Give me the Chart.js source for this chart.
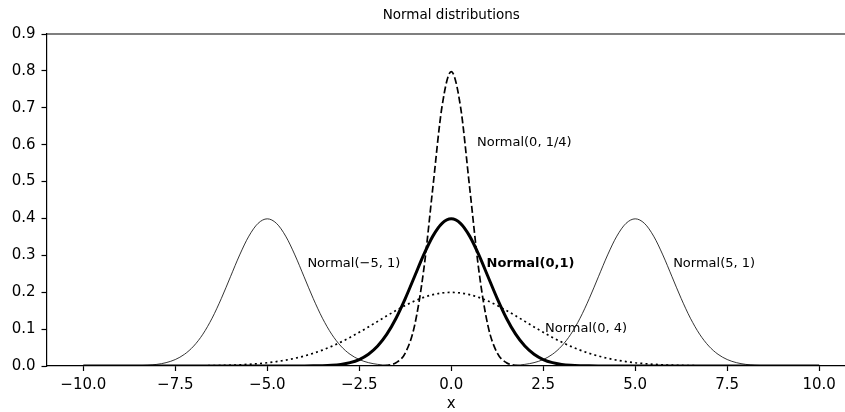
<!DOCTYPE html>
<html>
<head>
<meta charset="utf-8">
<script src="https://cdn.jsdelivr.net/npm/chart.js@4/dist/chart.umd.min.js"></script>
<style>
  html, body { margin: 0; padding: 0; background: #fff; overflow: hidden; width: 845px; height: 412px; }
  #wrap { position: relative; width: 857px; height: 412px; }
</style>
</head>
<body>
<div id="wrap"><canvas id="c" width="857" height="412"></canvas></div>
<script>
// ---- data ----
const xValues = [-10,-9.75,-9.5,-9.25,-9,-8.75,-8.5,-8.25,-8,-7.75,-7.5,-7.25,-7,-6.75,-6.5,-6.25,-6,-5.75,-5.5,-5.25,
  -5,-4.75,-4.5,-4.25,-4,-3.75,-3.5,-3.25,-3,-2.75,-2.5,-2.25,-2,-1.75,-1.5,-1.25,-1,-0.75,-0.5,-0.25,
  0,0.25,0.5,0.75,1,1.25,1.5,1.75,2,2.25,2.5,2.75,3,3.25,3.5,3.75,4,4.25,4.5,4.75,
  5,5.25,5.5,5.75,6,6.25,6.5,6.75,7,7.25,7.5,7.75,8,8.25,8.5,8.75,9,9.25,9.5,9.75,10];

const normal0_1 = [0,0,0,0,0,0,0,0,0,0,0,0,0,0,0,0,0,0,0,0,0,
  0.00001,0.00002,0.00005,0.00013,0.00035,0.00087,0.00203,0.00443,0.00909,0.01753,0.03174,0.05399,0.08628,0.12952,0.18265,0.24197,0.30114,0.35207,0.38667,
  0.39894,
  0.38667,0.35207,0.30114,0.24197,0.18265,0.12952,0.08628,0.05399,0.03174,0.01753,0.00909,0.00443,0.00203,0.00087,0.00035,0.00013,0.00005,0.00002,0.00001,
  0,0,0,0,0,0,0,0,0,0,0,0,0,0,0,0,0,0,0,0,0];

const normalM5_1 = [0,
  0.00001,0.00002,0.00005,0.00013,0.00035,0.00087,0.00203,0.00443,0.00909,0.01753,0.03174,0.05399,0.08628,0.12952,0.18265,0.24197,0.30114,0.35207,0.38667,
  0.39894,
  0.38667,0.35207,0.30114,0.24197,0.18265,0.12952,0.08628,0.05399,0.03174,0.01753,0.00909,0.00443,0.00203,0.00087,0.00035,0.00013,0.00005,0.00002,0.00001,
  0,0,0,0,0,0,0,0,0,0,0,0,0,0,0,0,0,0,0,0,0,0,0,0,0,0,0,0,0,0,0,0,0,0,0,0,0,0,0,0,0];

const normalP5_1 = [0,0,0,0,0,0,0,0,0,0,0,0,0,0,0,0,0,0,0,0,0,0,0,0,0,0,0,0,0,0,0,0,0,0,0,0,0,0,0,0,0,
  0.00001,0.00002,0.00005,0.00013,0.00035,0.00087,0.00203,0.00443,0.00909,0.01753,0.03174,0.05399,0.08628,0.12952,0.18265,0.24197,0.30114,0.35207,0.38667,
  0.39894,
  0.38667,0.35207,0.30114,0.24197,0.18265,0.12952,0.08628,0.05399,0.03174,0.01753,0.00909,0.00443,0.00203,0.00087,0.00035,0.00013,0.00005,0.00002,0.00001,
  0];

const normal0_quarter = [0,0,0,0,0,0,0,0,0,0,0,0,0,0,0,0,0,0,0,0,0,0,0,0,0,0,0,0,0,0,0,
  0.00003,0.00027,0.00175,0.00886,0.03506,0.10798,0.25904,0.48394,0.70413,
  0.79788,
  0.70413,0.48394,0.25904,0.10798,0.03506,0.00886,0.00175,0.00027,0.00003,
  0,0,0,0,0,0,0,0,0,0,0,0,0,0,0,0,0,0,0,0,0,0,0,0,0,0,0,0,0,0,0];

const normal0_4 = [0,0,0,0,0.00001,0.00001,0.00002,0.00004,0.00007,0.00011,0.00018,0.00028,0.00044,0.00067,0.00101,0.00151,0.00222,0.00320,0.00455,0.00636,
  0.00876,0.01189,0.01587,0.02087,0.02700,0.03439,0.04314,0.05327,0.06476,0.07751,0.09133,0.10594,0.12099,0.13603,0.15057,0.16408,0.17603,0.18593,0.19333,0.19792,
  0.19947,
  0.19792,0.19333,0.18593,0.17603,0.16408,0.15057,0.13603,0.12099,0.10594,0.09133,0.07751,0.06476,0.05327,0.04314,0.03439,0.02700,0.02087,0.01587,0.01189,0.00876,
  0.00636,0.00455,0.00320,0.00222,0.00151,0.00101,0.00067,0.00044,0.00028,0.00018,0.00011,0.00007,0.00004,0.00002,0.00001,0.00001,0,0,0,0];

const xTicks = [-10, -7.5, -5, -2.5, 0, 2.5, 5, 7.5, 10];
const yTicks = [0, 0.1, 0.2, 0.3, 0.4, 0.5, 0.6, 0.7, 0.8, 0.9];

const titleText = 'Normal distributions';
const xAxisLabel = 'x';
const annotationTexts = ['Normal(0, 1/4)', 'Normal(−5, 1)', 'Normal(0,1)', 'Normal(5, 1)', 'Normal(0, 4)'];
const annotationX = [0.7, -3.91, 0.96, 6.03, 2.55];
const annotationY = [0.597, 0.268, 0.268, 0.268, 0.091];
const annotationBold = [false, false, true, false, false];

// ---- chart ----
const FONT = "'DejaVu Sans', 'Liberation Sans', sans-serif";
Chart.defaults.font.family = FONT;
Chart.defaults.color = '#000';

const pts = arr => xValues.map((x, i) => ({ x: x, y: arr[i] }));

const overlay = {
  id: 'overlay',
  afterDraw(chart) {
    const ctx = chart.ctx, a = chart.chartArea;
    const xs = chart.scales.x, ys = chart.scales.y;
    ctx.save();
    // top spine
    ctx.strokeStyle = '#000';
    ctx.lineWidth = 1.2;
    ctx.beginPath();
    ctx.moveTo(a.left - 0.6, a.top);
    ctx.lineTo(a.right, a.top);
    ctx.stroke();
    // title
    ctx.fillStyle = '#000';
    ctx.textAlign = 'center';
    ctx.textBaseline = 'alphabetic';
    ctx.font = '13.5px ' + FONT;
    ctx.fillText(titleText, (a.left + a.right) / 2, 19.3);
    // annotations
    ctx.textAlign = 'left';
    for (let i = 0; i < annotationTexts.length; i++) {
      ctx.font = (annotationBold[i] ? 'bold ' : '') + '13px ' + FONT;
      ctx.fillText(annotationTexts[i], xs.getPixelForValue(annotationX[i]), ys.getPixelForValue(annotationY[i]));
    }
    ctx.restore();
  }
};

const base = { pointRadius: 0, borderColor: '#000', backgroundColor: '#000', fill: false,
  cubicInterpolationMode: 'monotone', borderCapStyle: 'butt', borderJoinStyle: 'round' };

new Chart(document.getElementById('c'), {
  type: 'line',
  data: {
    datasets: [
      Object.assign({ label: 'Normal(0,1)', data: pts(normal0_1), borderWidth: 3 }, base),
      Object.assign({ label: 'Normal(0,1/4)', data: pts(normal0_quarter), borderWidth: 1.7, borderDash: [7, 3] }, base),
      Object.assign({ label: 'Normal(0,4)', data: pts(normal0_4), borderWidth: 1.7, borderDash: [2, 3.2] }, base),
      Object.assign({ label: 'Normal(-5,1)', data: pts(normalM5_1), borderWidth: 0.8 }, base),
      Object.assign({ label: 'Normal(5,1)', data: pts(normalP5_1), borderWidth: 0.8 }, base)
    ]
  },
  options: {
    responsive: false,
    animation: false,
    events: [],
    layout: { padding: { top: 34, right: 1, left: 0, bottom: 0 } },
    plugins: { legend: { display: false }, tooltip: { enabled: false }, title: { display: false } },
    scales: {
      x: {
        type: 'linear', min: -11, max: 11,
        afterBuildTicks: s => { s.ticks = xTicks.map(v => ({ value: v })); },
        afterFit: s => { s.height = 46; },
        grid: { drawOnChartArea: false, drawTicks: true, tickLength: 5, tickColor: '#000', tickWidth: 1.2 },
        border: { display: true, color: '#000', width: 1.2 },
        ticks: { color: '#000', font: { size: 15 }, padding: 5, maxRotation: 0, autoSkip: false,
          callback: v => v.toFixed(1).replace('-', '\u2212') },
        title: { display: true, text: xAxisLabel, color: '#000', font: { size: 15 }, padding: { top: 0, bottom: -1 } }
      },
      y: {
        min: 0, max: 0.9,
        afterBuildTicks: s => { s.ticks = yTicks.map(v => ({ value: v })); },
        afterFit: s => { s.width = 46.5; },
        grid: { drawOnChartArea: false, drawTicks: true, tickLength: 5, tickColor: '#000', tickWidth: 1.2 },
        border: { display: true, color: '#000', width: 1.2 },
        ticks: { color: '#000', font: { size: 15 }, padding: 6, autoSkip: false,
          callback: v => v.toFixed(1) }
      }
    }
  },
  plugins: [overlay]
});
</script>
</body>
</html>
